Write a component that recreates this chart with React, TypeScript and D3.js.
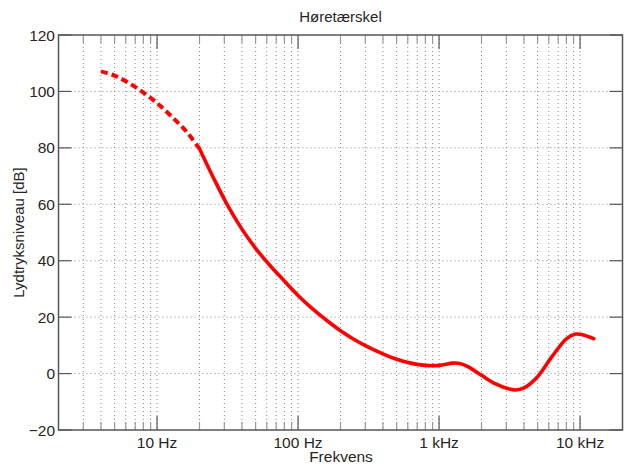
import React from "react";
import * as d3 from "d3";

const TITLE = "Høretærskel";
const X_LABEL = "Frekvens";
const Y_LABEL = "Lydtryksniveau [dB]";

const FREQ_DASHED = [4, 5, 6.3, 8, 10, 12.5, 16, 20];
const LEVEL_DASHED = [107.1, 105.6, 103.0, 99.6, 95.9, 91.4, 86.0, 79.7];

const FREQ_SOLID = [20, 25, 31.5, 40, 50, 63, 80, 100, 125, 160, 200, 250, 315, 400, 500, 630, 800, 1000, 1250, 1400, 1600, 2000, 2500, 3150, 3500, 4000, 5000, 6300, 8000, 9300, 10400, 12500];
const LEVEL_SOLID = [79.7, 69.6, 59.8, 51.2, 44.4, 38.4, 32.8, 27.7, 23.2, 18.8, 15.2, 12.1, 9.4, 7.0, 5.1, 3.7, 2.9, 2.9, 3.7, 3.6, 2.5, -0.6, -3.6, -5.5, -5.8, -5.1, -1.1, 5.9, 12.3, 14.0, 13.8, 12.4];

const X_MAJOR = [10, 100, 1000, 10000];
const X_MAJOR_LABELS = ["10 Hz", "100 Hz", "1 kHz", "10 kHz"];
const Y_TICKS = [-20, 0, 20, 40, 60, 80, 100, 120];

const W = 626;
const H = 466;
const L = 58.5;
const R = 622.5;
const T = 35;
const B = 430;

export default function App() {
  const x = d3.scaleLog().domain([2, 20000]).range([L, R]);
  const y = d3.scaleLinear().domain([-20, 120]).range([B, T]);

  const minor: number[] = [];
  for (let p = 0; p <= 4; p++) {
    for (let m = 1; m <= 9; m++) {
      const v = m * Math.pow(10, p);
      if (v > 2 && v < 20000) minor.push(v);
    }
  }

  const line = d3
    .line<[number, number]>()
    .x((d) => x(d[0]))
    .y((d) => y(d[1]))
    .curve(d3.curveCatmullRom.alpha(0.5));

  const dashedPts = FREQ_DASHED.map((f, i) => [f, LEVEL_DASHED[i]] as [number, number]);
  const solidPts = FREQ_SOLID.map((f, i) => [f, LEVEL_SOLID[i]] as [number, number]);

  const font = "'Liberation Sans', Arial, Helvetica, sans-serif";
  const textColor = "#262626";
  const axisColor = "#555";
  const gridColor = "#8a8a8a";

  return (
    <svg
      width={W}
      height={H}
      style={{ position: "absolute", left: 0, top: 0, background: "#fff" }}
      fontFamily={font}
    >
      <rect x={0} y={0} width={W} height={H} fill="#fff" />
      {minor.map((v) => (
        <line
          key={"gv" + v}
          x1={x(v)}
          x2={x(v)}
          y1={T}
          y2={B}
          stroke={gridColor}
          strokeWidth={1}
          strokeDasharray="1,3"
        />
      ))}
      {Y_TICKS.filter((v) => v > -20 && v < 120).map((v) => (
        <line
          key={"gh" + v}
          x1={L}
          x2={R}
          y1={y(v)}
          y2={y(v)}
          stroke={gridColor}
          strokeWidth={1}
          strokeDasharray="1,3"
        />
      ))}
      {minor.map((v) => {
        const major = X_MAJOR.includes(v);
        const len = major ? 14 : 8;
        const c = major ? axisColor : "#999";
        return (
          <g key={"tx" + v}>
            <line x1={x(v)} x2={x(v)} y1={B} y2={B - len} stroke={c} strokeWidth={1.2} />
            <line x1={x(v)} x2={x(v)} y1={T} y2={T + len} stroke={c} strokeWidth={1.2} />
          </g>
        );
      })}
      {Y_TICKS.map((v) => (
        <g key={"ty" + v}>
          <line x1={L} x2={L + 13} y1={y(v)} y2={y(v)} stroke={axisColor} strokeWidth={1.2} />
          <line x1={R} x2={R - 13} y1={y(v)} y2={y(v)} stroke={axisColor} strokeWidth={1.2} />
        </g>
      ))}
      <rect x={L} y={T} width={R - L} height={B - T} fill="none" stroke={axisColor} strokeWidth={1.5} />
      <path
        d={line(dashedPts) || ""}
        fill="none"
        stroke="#f00"
        strokeWidth={4}
        strokeDasharray="7,4"
      />
      <path d={line(solidPts) || ""} fill="none" stroke="#f00" strokeWidth={3.6} strokeLinecap="round" />
      {X_MAJOR.map((v, i) => (
        <text
          key={"lx" + v}
          x={x(v)}
          y={448}
          textAnchor="middle"
          fontSize={15.5}
          fill={textColor}
        >
          {X_MAJOR_LABELS[i]}
        </text>
      ))}
      {Y_TICKS.map((v) => (
        <text
          key={"ly" + v}
          x={55}
          y={y(v)}
          dy="0.36em"
          textAnchor="end"
          fontSize={15.5}
          fill={textColor}
        >
          {v < 0 ? "\u2212" + Math.abs(v) : v}
        </text>
      ))}
      <text x={340.5} y={22} textAnchor="middle" fontSize={15} fill={textColor}>
        {TITLE}
      </text>
      <text x={341} y={462} textAnchor="middle" fontSize={15.5} fill={textColor}>
        {X_LABEL}
      </text>
      <text
        transform={`translate(24,${(T + B) / 2}) rotate(-90)`}
        textAnchor="middle"
        fontSize={15}
        fill={textColor}
      >
        {Y_LABEL}
      </text>
    </svg>
  );
}
